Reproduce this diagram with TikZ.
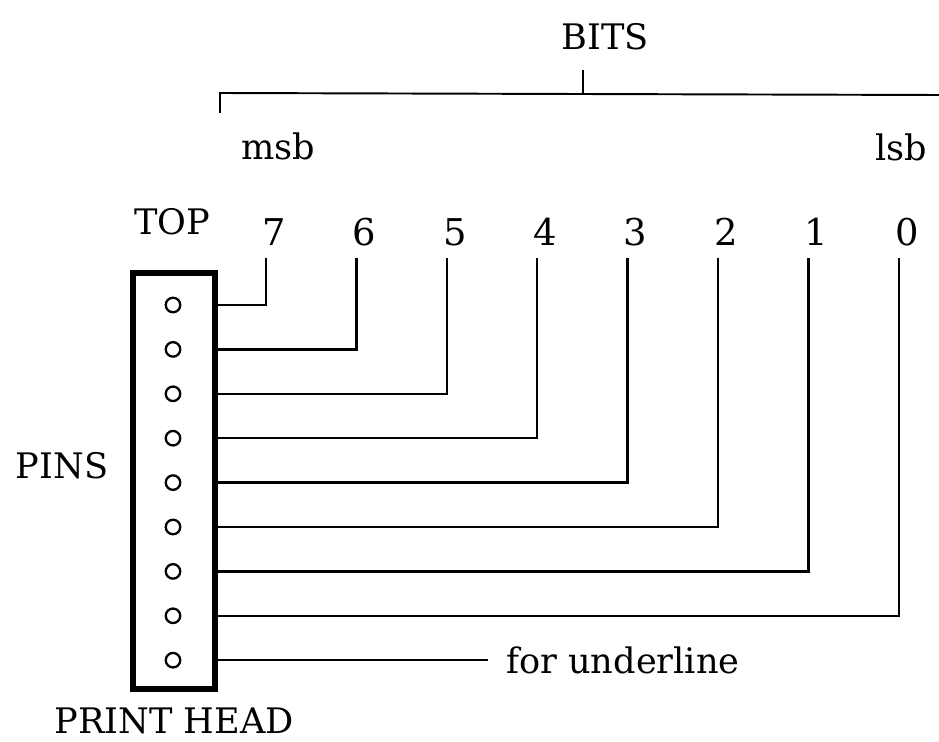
\documentclass[tikz,border=0pt]{standalone}
\usepackage{fontspec}
\setmainfont{DejaVu Serif}
\begin{document}
\begin{tikzpicture}[node distance=0.888cm, font=\fontsize{20}{24}\selectfont]
    \tikzstyle{printhead} = [rectangle, draw, line width=3.4pt, minimum width=1.64cm,
                                      minimum height=8.32cm]
    \tikzstyle{pinhole} = [circle, draw, line width=1.3pt, minimum size=0.29cm, inner sep=0pt]
    \tikzstyle{wire} = [line width=1.4pt]
    \tikzstyle{bitnum} = [inner sep=0.235cm, font=\fontsize{21}{25}\selectfont]
  \useasboundingbox (0,0) rectangle (18.78,-14.84);
  \node[printhead](head) at (3.48,-9.62){};
  \node[pinhole](p1) at (3.46,-6.10){};
  \node[pinhole, below of=p1](p2){};
  \node[pinhole, below of=p2](p3){};
  \node[pinhole, below of=p3](p4){};
  \node[pinhole, below of=p4](p5){};
  \node[pinhole, below of=p5](p6){};
  \node[pinhole, below of=p6](p7){};
  \node[pinhole, below of=p7](p8){};
  \node[pinhole, below of=p8](p9){};
  \node[bitnum](b7) at (5.48,-4.64){7};
  \node[bitnum, right of=b7, xshift=0.92cm](b6){6};
  \node[bitnum, right of=b6, xshift=0.92cm](b5){5};
  \node[bitnum, right of=b5, xshift=0.92cm](b4){4};
  \node[bitnum, right of=b4, xshift=0.92cm](b3){3};
  \node[bitnum, right of=b3, xshift=0.92cm](b2){2};
  \node[bitnum, right of=b2, xshift=0.92cm](b1){1};
  \node[bitnum, right of=b1, xshift=0.92cm](b0){0};
  \node[left of=b7, xshift=-1.15cm, yshift=0.2cm](top){TOP};
  \node[anchor=base](msb) at (5.56,-3.20){msb};
  \node[anchor=base](lsb) at (18.02,-3.22){lsb};
  \node[anchor=base](bits) at (12.10,-1.00){BITS};
  \node[anchor=base](pins) at (1.24,-9.56){PINS};
  \node[anchor=base, inner sep=1pt](phead) at (3.48,-14.66){PRINT HEAD};
  \node[anchor=base west](uline) at (10.00,-13.46){for underline};
  \coordinate (brl) at (4.40,-2.26);
  \coordinate (brm) at (11.66,-1.88);
  \draw[line width=1.1pt] (brl) -- ++(0,0.40) -- (18.78,-1.90);
  \draw[line width=1.1pt] (brm) -- ++(0,0.48);
  \draw[wire] (p1 -| head.east) -| ([xshift=-0.16cm]b7.south);
  \draw[wire] (p2 -| head.east) -| ([xshift=-0.16cm]b6.south);
  \draw[wire] (p3 -| head.east) -| ([xshift=-0.16cm]b5.south);
  \draw[wire] (p4 -| head.east) -| ([xshift=-0.16cm]b4.south);
  \draw[wire] (p5 -| head.east) -| ([xshift=-0.16cm]b3.south);
  \draw[wire] (p6 -| head.east) -| ([xshift=-0.16cm]b2.south);
  \draw[wire] (p7 -| head.east) -| ([xshift=-0.16cm]b1.south);
  \draw[wire] (p8 -| head.east) -| ([xshift=-0.16cm]b0.south);
  \draw[wire] (p9 -| head.east) -- ([xshift=-0.24cm]uline.west |- p9);
  \end{tikzpicture}
\end{document}
